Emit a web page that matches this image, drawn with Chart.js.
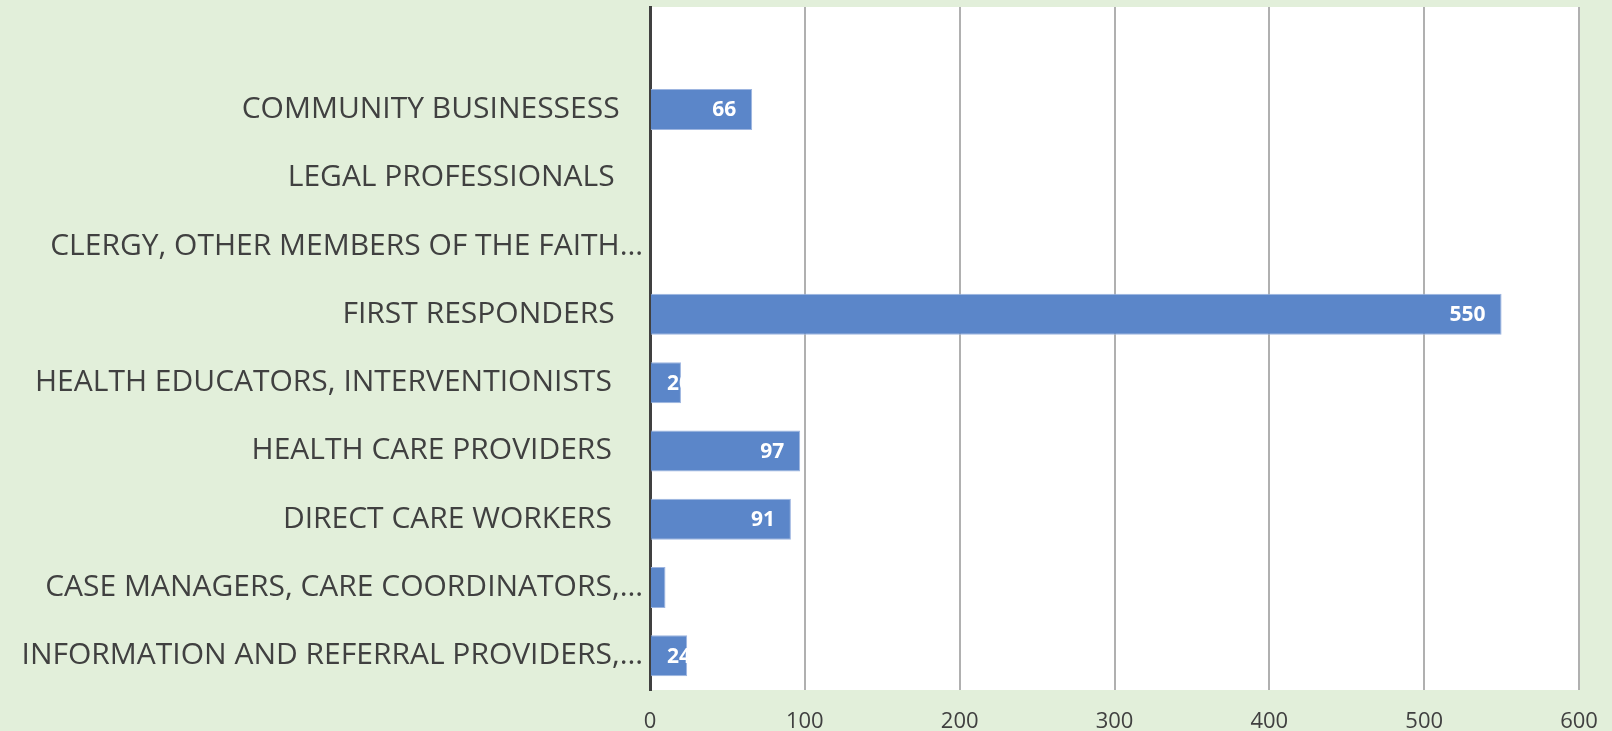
<!DOCTYPE html>
<html>
<head>
<meta charset="utf-8">
<script src="https://cdn.jsdelivr.net/npm/chart.js@4"></script>
<style>
    html, body { margin: 0; padding: 0; background: #E2EFDA; }
    #wrap { width: 1612px; height: 731px; position: relative; }
</style>
</head>
<body>
<div id="wrap"><canvas id="chart"></canvas></div>
<script>
// categorías (la primera fila está vacía en el original)
const categorias = [
    '',
    'COMMUNITY BUSINESSESS   ',
    'LEGAL PROFESSIONALS   \u2009',
    'CLERGY, OTHER MEMBERS OF THE FAITH…',
    'FIRST RESPONDERS   \u2009',
    'HEALTH EDUCATORS, INTERVENTIONISTS    ',
    'HEALTH CARE PROVIDERS    ',
    'DIRECT CARE WORKERS    ',
    'CASE MANAGERS, CARE COORDINATORS,…',
    'INFORMATION AND REFERRAL PROVIDERS,…'
];
const valores = [null, 66, 0, 0, 550, 20, 97, 91, 10, 24];
const ticksX = [0, 100, 200, 300, 400, 500, 600];

// fondo blanco del área de trazado
const fondoArea = {
    id: 'fondoArea',
    beforeDraw(chart) {
        const { ctx, chartArea: a } = chart;
        ctx.save();
        ctx.fillStyle = '#FFFFFF';
        ctx.fillRect(a.left, a.top, a.right - a.left, a.bottom - a.top);
        ctx.restore();
    }
};

// etiquetas de valor dentro de la barra (recortadas como en Excel)
const etiquetas = {
    id: 'etiquetas',
    afterDatasetsDraw(chart) {
        const ctx = chart.ctx;
        chart.getDatasetMeta(0).data.forEach((bar, i) => {
            const v = valores[i];
            if (!v) return;
            const txt = String(v);
            ctx.save();
            ctx.font = 'bold 21px "Open Sans"';
            const w = ctx.measureText(txt).width;
            const derecha = Math.max(bar.x - 16, bar.base + 16 + w);
            ctx.beginPath();
            ctx.rect(bar.base, bar.y - bar.height / 2, bar.x - bar.base, bar.height);
            ctx.clip();
            ctx.fillStyle = '#FFFFFF';
            ctx.textAlign = 'right';
            ctx.textBaseline = 'middle';
            ctx.fillText(txt, derecha, bar.y + 1);
            ctx.restore();
        });
    }
};

new Chart(document.getElementById('chart'), {
    type: 'bar',
    data: {
        labels: categorias,
        datasets: [{
            data: valores,
            backgroundColor: '#5B86C9',
            borderColor: '#9DB5E0',
            borderWidth: 1,
            barPercentage: 0.6,
            categoryPercentage: 1
        }]
    },
    options: {
        indexAxis: 'y',
        responsive: true,
        maintainAspectRatio: false,
        animation: false,
        layout: { padding: { top: 7, right: 33, left: 0, bottom: 0 } },
        plugins: { legend: { display: false }, tooltip: { enabled: false } },
        scales: {
            x: {
                min: 0, max: 600,
                afterBuildTicks: s => { s.ticks = ticksX.map(v => ({ value: v })); },
                afterFit: s => { s.height = 41; s.paddingLeft = 0; s.paddingRight = 0; },
                grid: { color: '#B0B0B0', lineWidth: 2, drawTicks: false },
                border: { display: false },
                ticks: { color: '#404040', font: { family: 'Open Sans', size: 22 }, padding: 19 }
            },
            y: {
                afterFit: s => { s.width = 650; s.paddingTop = 0; s.paddingBottom = 0; },
                grid: { display: false, drawTicks: false },
                border: { color: '#404040', width: 3 },
                ticks: { color: '#404040', font: { family: 'Open Sans', size: 30 }, padding: 7, autoSkip: false }
            }
        }
    },
    plugins: [fondoArea, etiquetas]
});
</script>
</body>
</html>
